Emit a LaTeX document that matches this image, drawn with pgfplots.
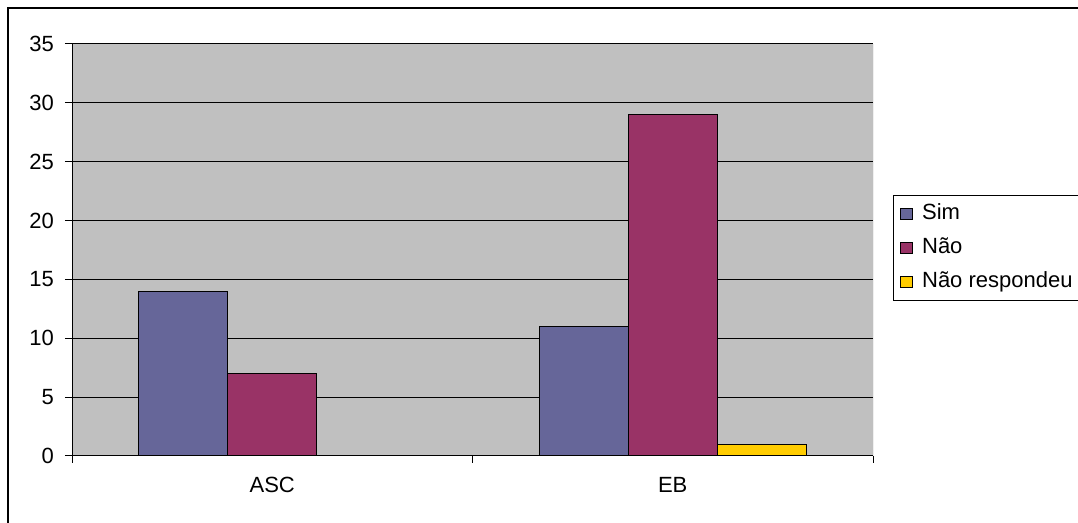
\documentclass[border=0pt]{standalone}
\usepackage{fontspec}
\setmainfont{Liberation Sans}
\usepackage{pgfplots}
\pgfplotsset{compat=1.18}
\definecolor{simcol}{HTML}{666699}
\definecolor{naocol}{HTML}{993366}
\definecolor{nrcol}{HTML}{FFCC00}
\definecolor{plotbg}{HTML}{C0C0C0}
\definecolor{edgegray}{HTML}{808080}
\begin{document}
\begin{tikzpicture}
\clip (0,0) rectangle (539pt,261.5pt);
\fill[white] (0,0) rectangle (539pt,261.5pt);
% chart area frame
\draw[line width=1pt] (4pt,-10pt) -- (4pt,257.5pt) -- (560pt,257.5pt);
\begin{axis}[
  at={(36pt,33.5pt)}, anchor=south west,
  scale only axis, width=400.5pt, height=206pt,
  ybar=0pt, bar width=0.2222,
  xmin=-0.5, xmax=1.5, ymin=0, ymax=35,
  ytick={0,5,...,35},
  xtick={-0.5,0.5,1.5}, xticklabels={},
  extra x ticks={0,1}, extra x tick labels={ASC,EB},
  extra x tick style={grid=none, major tick length=0pt},
  tick align=outside, major tick length=3.5pt,
  xtick pos=bottom, ytick pos=left,
  tick style={black, line width=0.5pt},
  ymajorgrids, grid style={black, line width=0.5pt},
  axis line style={draw=none},
  axis background/.style={fill=plotbg},
  /pgf/number format/assume math mode=true,
  tick label style={font=\fontsize{11}{13}\selectfont},
  xticklabel style={yshift=-7pt},
  yticklabel style={xshift=-2pt},
  legend style={at={(1.0245,0.6335)}, anchor=north west,
    draw=black, line width=0.5pt, fill=white,
    font=\fontsize{11}{13}\selectfont,
    inner xsep=3.5pt, inner ysep=4pt, row sep=6.5pt,
    column sep=4.5pt,
    nodes={inner sep=0pt, text height=8pt, text depth=2.5pt}},
  legend cell align=left,
  legend image code/.code={\draw[#1, draw=black, line width=0.5pt] (0pt,-2.75pt) rectangle (6pt,2.75pt);},
  every axis plot/.append style={draw=black, line width=0.6pt},
]
\addplot[fill=simcol] coordinates {(0,14) (1,11)};
\addplot[fill=naocol] coordinates {(0,7) (1,29)};
\addplot[fill=nrcol] coordinates {(1,1)};
\legend{Sim,Não,Não respondeu}
\draw[black, line width=0.5pt] (rel axis cs:0,0) -- (rel axis cs:0,1);
\draw[black, line width=0.5pt] (rel axis cs:0,0) -- (rel axis cs:1,0);
\draw[edgegray, line width=0.5pt] (rel axis cs:1,0) -- (rel axis cs:1,1);
\end{axis}
\end{tikzpicture}
\end{document}
